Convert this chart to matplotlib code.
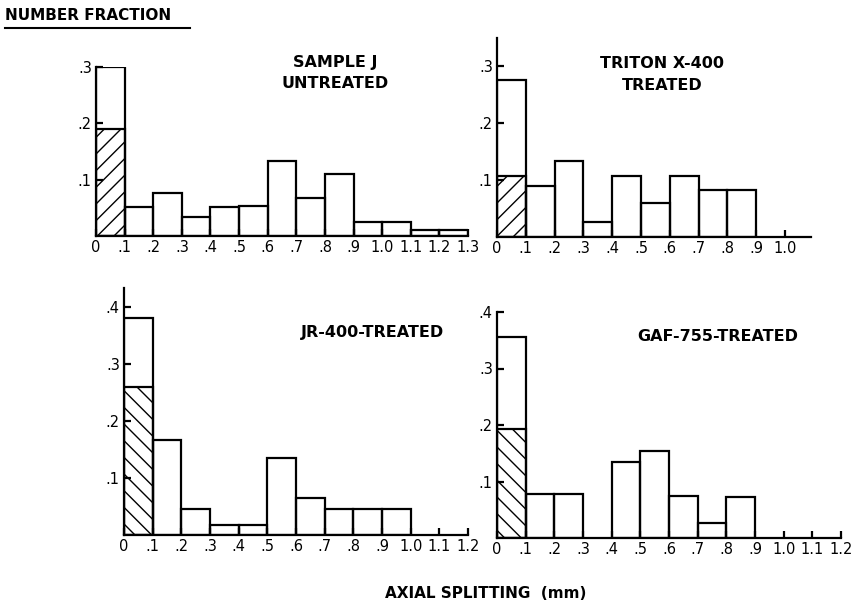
import matplotlib
matplotlib.use("Agg")
import matplotlib.pyplot as plt
import numpy as np

plt.rcParams['font.family'] = ['DejaVu Sans']
plt.rcParams['hatch.linewidth'] = 1.0

W, H = 856, 606

# bin left edges (mm) and number fractions
edges_j = [0.0, 0.1, 0.2, 0.3, 0.4, 0.5, 0.6, 0.7, 0.8, 0.9, 1.0, 1.1, 1.2]
frac_j = [0.30, 0.051, 0.076, 0.034, 0.051, 0.053, 0.133, 0.067, 0.11, 0.025, 0.025, 0.011, 0.011]
hatched_j = 0.19

edges_tx = [0.0, 0.1, 0.2, 0.3, 0.4, 0.5, 0.6, 0.7, 0.8]
frac_tx = [0.275, 0.089, 0.133, 0.026, 0.107, 0.06, 0.107, 0.082, 0.082]
hatched_tx = 0.107

edges_jr = [0.0, 0.1, 0.2, 0.3, 0.4, 0.5, 0.6, 0.7, 0.8, 0.9]
frac_jr = [0.38, 0.167, 0.046, 0.018, 0.018, 0.135, 0.065, 0.046, 0.046, 0.046]
hatched_jr = 0.26

edges_gaf = [0.0, 0.1, 0.2, 0.4, 0.5, 0.6, 0.7, 0.8]
frac_gaf = [0.355, 0.078, 0.078, 0.135, 0.154, 0.074, 0.027, 0.073]
hatched_gaf = 0.193

ticks_j = [0.0, 0.1, 0.2, 0.3, 0.4, 0.5, 0.6, 0.7, 0.8, 0.9, 1.0, 1.1, 1.2, 1.3]
labels_j = ['0', '.1', '.2', '.3', '.4', '.5', '.6', '.7', '.8', '.9', '1.0', '1.1', '1.2', '1.3']
ticks_tx = ticks_j[:11]
labels_tx = labels_j[:11]
ticks_12 = ticks_j[:13]
labels_12 = labels_j[:13]

yt_3 = [0.1, 0.2, 0.3]
yl_3 = ['.1', '.2', '.3']
yt_4 = [0.1, 0.2, 0.3, 0.4]
yl_4 = ['.1', '.2', '.3', '.4']

fig = plt.figure(figsize=(W / 100, H / 100), dpi=100)
fig.patch.set_facecolor('white')

LW = 1.6


def make_ax(x0, x1, ybase, ytop_px, xmax, ymax):
    return fig.add_axes([x0 / W, 1 - ybase / H, (x1 - x0) / W, (ybase - ytop_px) / H])


def panel(ax, edges, fr, hatched, hatch, xmax, ymax, xt, xl, yt, yl, title, tx, ty):
    ax.bar(edges, fr, width=0.1, align='edge', fill=False, edgecolor='black',
           linewidth=LW, zorder=3)
    ax.bar([0.0], [hatched], width=0.1, align='edge', fill=False, edgecolor='black',
           hatch=hatch, linewidth=LW, zorder=4)
    ax.set_xlim(0, xmax)
    ax.set_ylim(0, ymax)
    for s in ['top', 'right']:
        ax.spines[s].set_visible(False)
    for s in ['left', 'bottom']:
        ax.spines[s].set_linewidth(LW)
    ax.set_xticks(xt)
    ax.set_xticklabels(xl)
    ax.set_yticks(yt)
    ax.set_yticklabels(yl)
    ax.tick_params(axis='both', direction='in', length=5, width=LW, labelsize=10.5, pad=3)
    ax.patch.set_alpha(0)
    for i, line in enumerate(title.split('\n')):
        fig.text(tx / W, 1 - (ty + i * 21) / H, line, ha='center', va='center',
                 fontsize=11.5, fontweight='bold')


# top-left
ax1 = make_ax(96, 468, 236, 67, 1.3, 0.3)
panel(ax1, edges_j, frac_j, hatched_j, '//', 1.3, 0.3, ticks_j, labels_j, yt_3, yl_3,
      'SAMPLE J\nUNTREATED', 335, 62)

# top-right
ax2 = make_ax(497, 811, 237, 37.5, 1.09, 0.35)
panel(ax2, edges_tx, frac_tx, hatched_tx, '//', 1.09, 0.35, ticks_tx, labels_tx, yt_3, yl_3,
      'TRITON X-400\nTREATED', 662, 64)

# bottom-left
ax3 = make_ax(124, 468, 535, 288, 1.2, 0.433)
panel(ax3, edges_jr, frac_jr, hatched_jr, '\\\\', 1.2, 0.433, ticks_12, labels_12, yt_4, yl_4,
      'JR-400-TREATED', 372, 333)

# bottom-right
ax4 = make_ax(497, 841, 538, 312, 1.2, 0.4)
panel(ax4, edges_gaf, frac_gaf, hatched_gaf, '\\\\', 1.2, 0.4, ticks_12, labels_12, yt_4, yl_4,
      'GAF-755-TREATED', 718, 336)

# overall labels
fig.text(5 / W, 1 - 16 / H, 'NUMBER FRACTION', ha='left', va='center',
         fontsize=11, fontweight='bold')
fig.add_artist(plt.Line2D([5 / W, 190 / W], [1 - 28 / H, 1 - 28 / H], color='black',
                          linewidth=1.5, transform=fig.transFigure))
fig.text(486 / W, 1 - 593 / H, 'AXIAL SPLITTING  (mm)', ha='center', va='center',
         fontsize=11, fontweight='bold')

fig.savefig('out.png', dpi=100, facecolor='white')
